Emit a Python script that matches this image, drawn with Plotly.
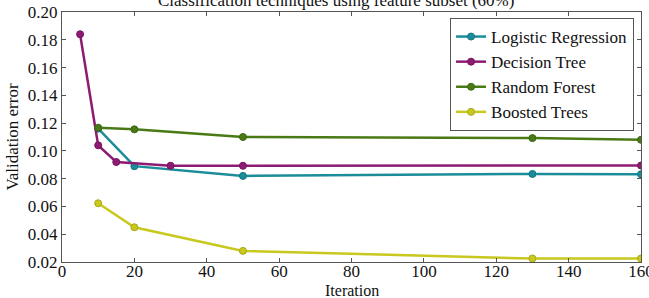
import plotly.graph_objects as go

lr_x = [10, 20, 50, 130, 160]
lr_y = [0.116, 0.089, 0.082, 0.0834, 0.0832]
dt_x = [5, 10, 15, 30, 50, 160]
dt_y = [0.184, 0.104, 0.092, 0.0893, 0.0893, 0.0895]
rf_x = [10, 20, 50, 130, 160]
rf_y = [0.1167, 0.1155, 0.110, 0.1092, 0.108]
bt_x = [10, 20, 50, 130, 160]
bt_y = [0.0623, 0.045, 0.028, 0.0225, 0.0225]

names = ["Logistic Regression", "Decision Tree", "Random Forest", "Boosted Trees"]
colors = ["#1a8c9a", "#8e1a72", "#4a7a16", "#c8c81e"]
mcolors = ["#137683", "#74145d", "#3c6610", "#a8a818"]

FONT = "Liberation Serif"
fig = go.Figure()
for (x, y), n, c, mc in zip([(lr_x, lr_y), (dt_x, dt_y), (rf_x, rf_y), (bt_x, bt_y)], names, colors, mcolors):
    fig.add_trace(go.Scatter(x=x, y=y, name=n, mode="lines+markers",
                             line=dict(color=c, width=2.5),
                             marker=dict(color=c, size=7, line=dict(color=mc, width=1))))

axis_common = dict(showgrid=False, zeroline=False, showline=True, linecolor="#555555", linewidth=1,
                   mirror="ticks", ticks="inside", ticklen=4, tickcolor="#555555", automargin=False,
                   tickfont=dict(family=FONT, size=17, color="#111"))
fig.update_xaxes(range=[0, 160], tickvals=[0, 20, 40, 60, 80, 100, 120, 140, 160],
                 ticklabeloverflow="allow", ticklabelstandoff=-6, **axis_common)
fig.update_yaxes(range=[0.02, 0.20], tickvals=[0.02, 0.04, 0.06, 0.08, 0.10, 0.12, 0.14, 0.16, 0.18, 0.20],
                 tickformat=".2f",
                 title=dict(text="Validation error", font=dict(family=FONT, size=17, color="#111"), standoff=4),
                 **axis_common)
fig.add_annotation(text="Iteration", xref="paper", yref="paper", x=0.5, y=-0.112,
                   xanchor="center", yanchor="middle", showarrow=False,
                   font=dict(family=FONT, size=16, color="#111"))
fig.update_layout(
    width=649, height=298,
    margin=dict(l=62, r=8, t=12, b=36),
    paper_bgcolor="white", plot_bgcolor="white",
    title=dict(text="Classification techniques using feature subset (60%)", x=0.518, xanchor="center",
               y=1.0, yanchor="middle", font=dict(family=FONT, size=17, color="#111")),
    legend=dict(x=0.988, y=0.976, xanchor="right", yanchor="top", bordercolor="#555555", borderwidth=1,
                bgcolor="white", font=dict(family=FONT, size=17, color="#111"), tracegroupgap=0,
                itemwidth=30),
    showlegend=True,
)
fig.write_html("out.html")
